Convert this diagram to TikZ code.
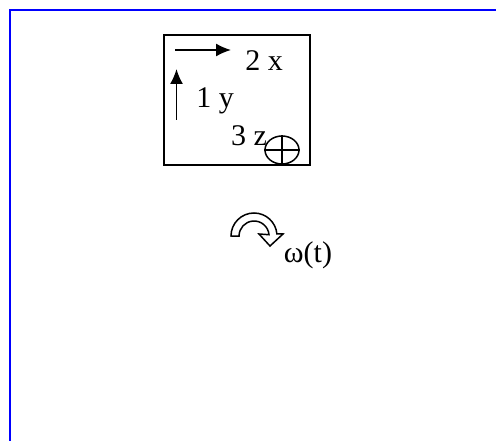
\documentclass[tikz,border=0pt]{standalone}
\usepackage{fontspec}
\setmainfont{Liberation Serif}
\usetikzlibrary{shapes,arrows.meta,positioning}

\begin{document}
\begin{tikzpicture}[x=1pt, y=-1pt,
    every node/.style={font=\fontsize{30}{35}\selectfont},
    axis/.style={-{Latex[length=15pt,width=13pt]}, line width=1.6pt}]
            \useasboundingbox (0,0) rectangle (496,441);

            % Frame
            \draw[blue, line width=2pt] (10,441) -- (10,10) -- (496,10);

            % Body
            \node[draw, line width=1.5pt, minimum width=146pt, minimum height=130pt, inner sep=0pt] (body) at (237,100) {};

            % Axes
            \coordinate (xtail) at (175,50);
            \coordinate (xhead) at (231,50);
            \coordinate (ytail) at (176.5,120);
            \coordinate (yhead) at (176.5,69);
            \draw[axis] (xtail) -- (xhead);
            \draw[axis] (ytail) -- (yhead);
            \node[anchor=base] (xlab) at (264,71) {2 x};
            \node[anchor=base] (ylab) at (215,108) {1 y};
            \node[anchor=base] (zlab) at (249,146) {3 z};

            % Into the page
            \node[draw, ellipse, line width=1.5pt, minimum width=34pt, minimum height=28pt, inner sep=0pt] (zaxis) at (282,150) {};
            \draw[line width=1.5pt] (zaxis.north) -- (zaxis.south);
            \draw[line width=1.5pt] (zaxis.west) -- (zaxis.east);

            % Rotation
            \draw[line width=1.5pt, fill=white] (231,236) arc[start angle=180, end angle=355, radius=23]
                -- (283,234) -- (270,246) -- (259,234) -- (269,234.7)
                arc[start angle=355, end angle=180, radius=15] -- cycle;
            \node[anchor=base] (omega) at (308,262) {ω(t)};
\end{tikzpicture}
\end{document}
